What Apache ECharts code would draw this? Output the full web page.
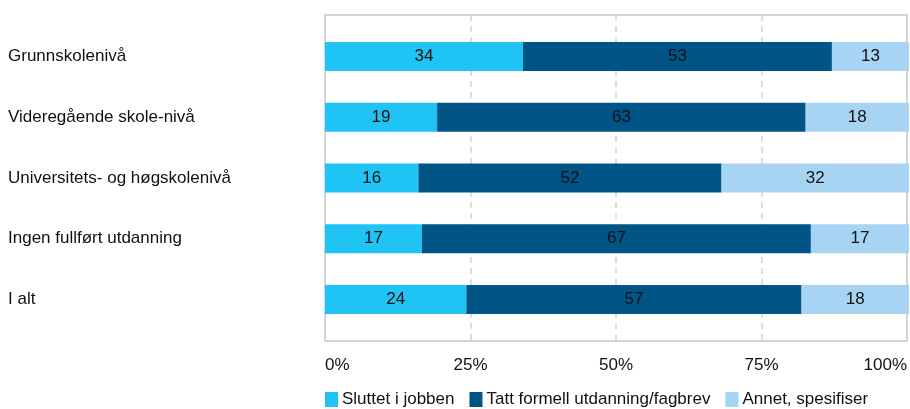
<!DOCTYPE html>
<html>
<head>
<meta charset="utf-8">
<script src="https://cdn.jsdelivr.net/npm/echarts@6/dist/echarts.min.js"></script>
<style>
  html, body { margin: 0; padding: 0; background: #fff; }
  #chart { width: 910px; height: 409px; }
</style>
</head>
<body>
<div id="chart"></div>
<script>
// Education level categories (top to bottom)
const categories = [
  'Grunnskolenivå',
  'Videregående skole-nivå',
  'Universitets- og høgskolenivå',
  'Ingen fullført utdanning',
  'I alt'
];

// Shares in percent per category
const sluttet = [33.9, 19.2, 16.0, 16.6, 24.2];
const tatt    = [52.9, 63.1, 51.9, 66.6, 57.4];
const annet   = [13.2, 17.7, 32.1, 16.8, 18.4];

const seriesNames = ['Sluttet i jobben', 'Tatt formell utdanning/fagbrev', 'Annet, spesifiser'];
const seriesColors = ['#20c4f4', '#005486', '#a8d4f4'];
const tickValues = [0, 25, 50, 75, 100];

const font = 'Liberation Sans';
const fs = 17;

const chart = echarts.init(document.getElementById('chart'), null, { renderer: 'canvas' });

const makeBar = (name, data, color) => ({
  name,
  type: 'bar',
  stack: 'total',
  xAxisIndex: 1,
  yAxisIndex: 1,
  barWidth: 29,
  data,
  itemStyle: { color },
  label: {
    show: true,
    position: 'inside',
    color: '#111',
    fontFamily: font,
    fontSize: fs,
    formatter: p => String(Math.round(p.value))
  }
});

chart.setOption({
  animation: false,
  textStyle: { fontFamily: font },
  grid: [
    // frame with percentage gridlines
    { left: 325, top: 15, width: 584, height: 326, show: true, borderColor: '#c8c8c8', borderWidth: 1.5, backgroundColor: 'transparent' },
    // bars
    { left: 325, top: 26, width: 584, height: 304 }
  ],
  xAxis: [
    {
      gridIndex: 0, type: 'value', min: 0, max: 100, interval: 25,
      axisLine: { show: false }, axisTick: { show: false },
      splitLine: { show: true, lineStyle: { color: '#d4d4d4', type: [6, 5], width: 1.5 } },
      axisLabel: {
        show: true, margin: 16, color: '#111', fontSize: fs, fontFamily: font,
        alignMinLabel: 'left', alignMaxLabel: 'right',
        formatter: v => tickValues.includes(v) ? v + '%' : ''
      }
    },
    {
      gridIndex: 1, type: 'value', min: 0, max: 100, show: false
    }
  ],
  yAxis: [
    { gridIndex: 0, type: 'value', show: false },
    {
      gridIndex: 1, type: 'category', data: categories, inverse: true,
      axisLine: { show: false }, axisTick: { show: false },
      axisLabel: { margin: 317, align: 'left', color: '#111', fontSize: fs, fontFamily: font }
    }
  ],
  legend: {
    left: 325, top: 391, padding: 0,
    itemWidth: 13, itemHeight: 15, itemGap: 15,
    icon: 'rect',
    textStyle: { color: '#111', fontSize: fs, fontFamily: font, padding: [0, 0, 0, -1] },
    data: seriesNames
  },
  series: [
    makeBar(seriesNames[0], sluttet, seriesColors[0]),
    makeBar(seriesNames[1], tatt, seriesColors[1]),
    makeBar(seriesNames[2], annet, seriesColors[2])
  ]
});
</script>
</body>
</html>
